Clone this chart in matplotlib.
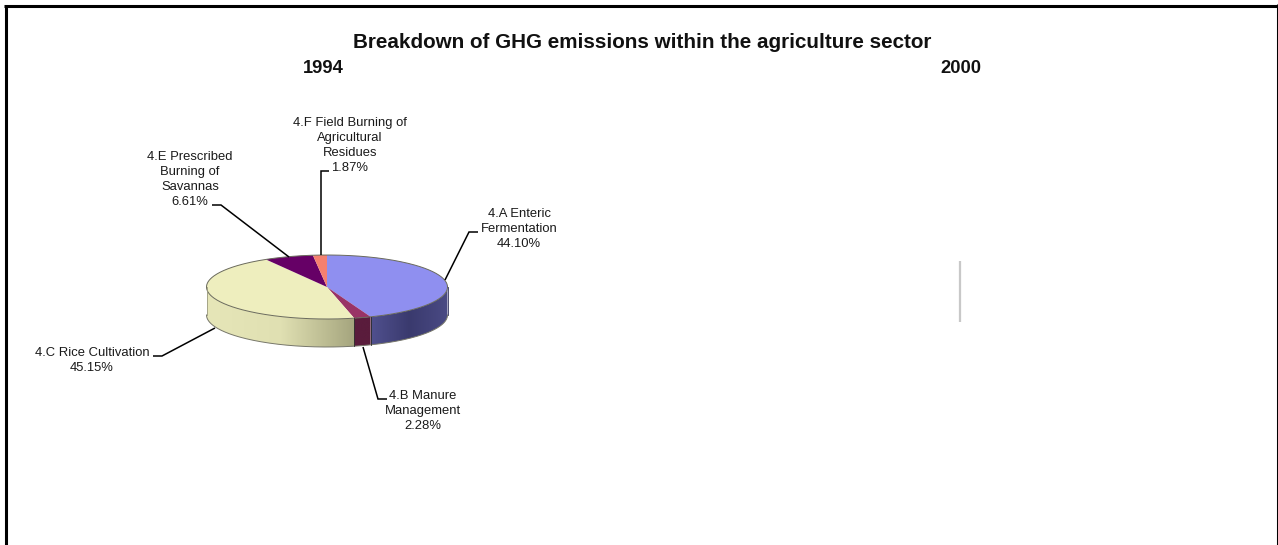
import numpy as np
import matplotlib
matplotlib.use("Agg")
import matplotlib.pyplot as plt
from matplotlib.patches import Polygon

plt.rcParams["font.family"] = ["Liberation Sans", "DejaVu Sans"]

categories = ["4.A Enteric\nFermentation", "4.B Manure\nManagement", "4.C Rice Cultivation",
              "4.E Prescribed\nBurning of\nSavannas", "4.F Field Burning of\nAgricultural\nResidues"]
shares = [44.10, 2.28, 45.15, 6.61, 1.87]
top_colors = ["#8f8ff0", "#993366", "#eeeebe", "#660066", "#f5806f"]
# side wall gradient stops, left to right
wall_colors = [["#50508e", "#3a3a6e", "#4a4a84"], ["#5a1c3c", "#5a1c3c", "#5a1c3c"],
               ["#e6e6b8", "#e0e0b2", "#a5a57e"], ["#3a003a", "#3a003a", "#3a003a"],
               ["#8a4040", "#8a4040", "#8a4040"]]

W, H = 1278, 545
PIE_LEFT, PIE_RIGHT, PIE_TOP, PIE_BOTTOM = 206.5, 447.5, 255, 319
WALL_PX = 28
RY = (PIE_BOTTOM - PIE_TOP) / 2
DEPTH = WALL_PX / RY  # wall height in pie data units

fig = plt.figure(figsize=(W / 100, H / 100), dpi=100, facecolor="white")

# overlay in pixel coordinates for frame, text and leader lines
ax = fig.add_axes([0, 0, 1, 1], zorder=3)
ax.set_xlim(0, W)
ax.set_ylim(H, 0)
ax.axis("off")
ax.patch.set_alpha(0)

pie_ax = fig.add_axes([PIE_LEFT / W, 1 - (PIE_BOTTOM + WALL_PX) / H,
                       (PIE_RIGHT - PIE_LEFT) / W, (PIE_BOTTOM + WALL_PX - PIE_TOP) / H], zorder=2)
wedges, _ = pie_ax.pie(shares, colors=top_colors, startangle=90, counterclock=False, radius=1,
                       wedgeprops={"edgecolor": "none", "zorder": 5})


def gradient(stops):
    rgb = np.array([matplotlib.colors.to_rgb(c) for c in stops])
    t = np.linspace(0, 1, 128)
    return np.stack([np.interp(t, np.linspace(0, 1, len(stops)), rgb[:, i]) for i in range(3)], axis=1)[None, :, :]


# side wall, only the front half of the pie shows
ends = 90 - np.cumsum(shares) * 3.6
starts = np.r_[90, ends[:-1]]
for start, end, stops in zip(starts, ends, wall_colors):
    lo, hi = np.radians(max(end, -180)), np.radians(min(start, 0))
    if hi <= lo:
        continue
    th = np.linspace(lo, hi, 80)
    xs, ys = np.cos(th), np.sin(th)
    wall = Polygon(np.c_[np.r_[xs, xs[::-1]], np.r_[ys, ys[::-1] - DEPTH]], closed=True,
                   facecolor="none", edgecolor="none", transform=pie_ax.transData)
    pie_ax.add_patch(wall)
    im = pie_ax.imshow(gradient(stops), extent=(xs.min(), xs.max(), -1 - DEPTH, 1), aspect="auto",
                       zorder=2, interpolation="bilinear")
    im.set_clip_path(wall)

pie_ax.set_aspect("auto")
pie_ax.set_xlim(-1, 1)
pie_ax.set_ylim(-1 - DEPTH, 1)

# dark rim on top ellipse and wall outline
th = np.linspace(0, 2 * np.pi, 400)
pie_ax.plot(np.cos(th), np.sin(th), color="#6a6a5c", lw=0.7, clip_on=False, zorder=6)
th = np.linspace(-np.pi, 0, 200)
pie_ax.plot(np.cos(th), np.sin(th) - DEPTH, color="#77776a", lw=0.7, clip_on=False, zorder=6)
pie_ax.plot([-1, -1], [0, -DEPTH], color="#9a9a80", lw=0.6, clip_on=False, zorder=6)
pie_ax.plot([1, 1], [0, -DEPTH], color="#30305a", lw=0.6, clip_on=False, zorder=6)
for a in [starts[1], starts[2]]:
    x = np.cos(np.radians(a))
    y = np.sin(np.radians(a))
    pie_ax.plot([x, x], [y, y - DEPTH], color="#2a2a2a", lw=0.6, clip_on=False, zorder=6)

# frame, only partly in view
ax.plot([5.5, 5.5], [H + 5, 5.5], color="black", lw=2.2, solid_capstyle="butt", clip_on=False)
ax.plot([4, W + 5], [5.5, 5.5], color="black", lw=2.2, solid_capstyle="butt", clip_on=False)
ax.plot([W - 0.5, W - 0.5], [4, H + 5], color="black", lw=2.2, solid_capstyle="butt", clip_on=False)

# title and year headings
ax.text(642, 43, "Breakdown of GHG emissions within the agriculture sector", ha="center", va="center",
        fontsize=14.9, fontweight="bold", color="#111111")
ax.text(323.5, 68.5, "1994", ha="center", va="center", fontsize=13.2, fontweight="bold", color="#111111")
ax.text(960.5, 68.5, "2000", ha="center", va="center", fontsize=13.2, fontweight="bold", color="#111111")

# data labels
label_pos = [(519, 229), (423, 411), (92, 360.5), (190, 179.5), (350, 145.5)]
for name, share, (lx, ly) in zip(categories, shares, label_pos):
    ax.text(lx, ly, f"{name}\n{share:.2f}%", ha="center", va="center", fontsize=9.35, linespacing=1.33,
            color="#1a1a1a")

# leader lines
leaders = [([445, 469, 478], [280, 232, 232]),
           ([363, 378, 387], [347, 399, 399]),
           ([215, 162, 153], [328, 356, 356]),
           ([289, 221, 212], [257, 205, 205]),
           ([321, 321, 329], [255, 171, 171])]
for xs, ys in leaders:
    ax.plot(xs, ys, color="black", lw=1.1, solid_capstyle="butt", solid_joinstyle="miter")

# stray sliver of the hidden 2000 chart
ax.plot([960, 960], [261, 322], color="#c8c8c8", lw=1.6, solid_capstyle="butt")

fig.savefig("out.png", dpi=100)
